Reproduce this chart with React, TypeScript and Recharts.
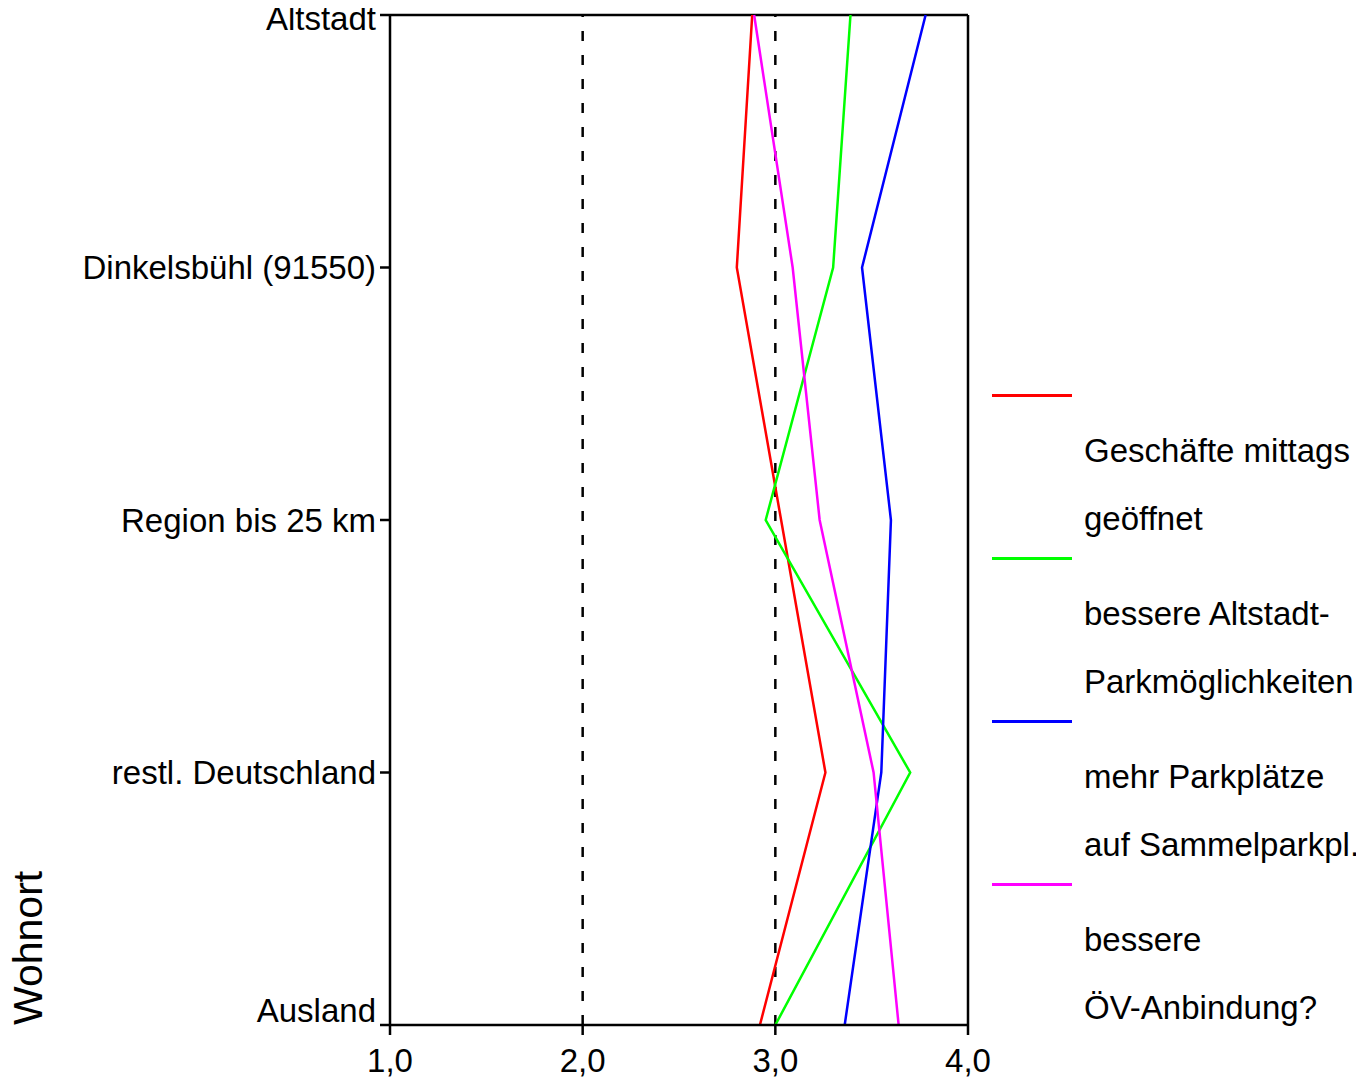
import React from 'react';
import { LineChart, Line, XAxis, YAxis, ReferenceLine, Legend, Label } from 'recharts';

const categories = ['Altstadt', 'Dinkelsbühl (91550)', 'Region bis 25 km', 'restl. Deutschland', 'Ausland'];

const geschaefte = [2.88, 2.8, 3.03, 3.26, 2.92];
const altstadtParken = [3.39, 3.3, 2.95, 3.7, 3.0];
const sammelParken = [3.78, 3.45, 3.6, 3.55, 3.36];
const oevAnbindung = [2.89, 3.09, 3.23, 3.51, 3.64];

const xTicks = [1, 2, 3, 4];

const series = [
    { key: 'geschaefte', name: 'Geschäfte mittags\ngeöffnet', color: '#ff0000', values: geschaefte },
    { key: 'altstadtParken', name: 'bessere Altstadt-\nParkmöglichkeiten', color: '#00ff00', values: altstadtParken },
    { key: 'sammelParken', name: 'mehr Parkplätze\nauf Sammelparkpl.', color: '#0000ff', values: sammelParken },
    { key: 'oevAnbindung', name: 'bessere\nÖV-Anbindung?', color: '#ff00ff', values: oevAnbindung },
];

const data = categories.map((cat, i) => {
    const row: Record<string, any> = { cat };
    series.forEach((s) => { row[s.key] = s.values[i]; });
    return row;
});

const FONT = '"Liberation Sans", Arial, sans-serif';

const YTick = (props: any) => {
    const { x, y, payload, index } = props;
    let shift = 0;
    if (index === 0) shift = 3;
    if (index === categories.length - 1) shift = -15;
    return (
        <text x={x} y={y + shift} dy="0.355em" textAnchor="end" fontSize={33} fontFamily={FONT} fill="#000">
            {payload.value}
        </text>
    );
};

// legend drawn in series order (recharts sorts its payload otherwise)
const LegendContent = () => (
    <div style={{ width: 372, fontFamily: FONT, fontSize: 33, color: '#000' }}>
        {series.map((s) => (
            <div key={`leg-${s.key}`} style={{ position: 'relative', height: 163 }}>
                <div style={{ position: 'absolute', left: 0, top: 0, width: 80, height: 2.5, background: s.color }} />
                <div style={{ position: 'absolute', left: 92, top: 23, lineHeight: '68px', whiteSpace: 'pre' }}>
                    {s.name}
                </div>
            </div>
        ))}
    </div>
);

const WohnortLabel = (props: any) => {
    const { viewBox } = props;
    const x = viewBox.x + 42;
    const y = viewBox.y + viewBox.height;
    return (
        <text x={x} y={y} transform={`rotate(-90, ${x}, ${y})`} textAnchor="start" fontSize={41} fontFamily={FONT} fill="#000">
            Wohnort
        </text>
    );
};

export default function App() {
    return (
        <div style={{ marginTop: -8, marginLeft: -8, width: 1364, height: 1080 }}>
            <LineChart
                width={1364}
                height={1080}
                data={data}
                layout="vertical"
                margin={{ top: 15, right: 24, left: 0, bottom: 0 }}
            >
                <XAxis
                    type="number"
                    domain={[1, 4]}
                    ticks={xTicks}
                    tickFormatter={(v: number) => v.toFixed(1).replace('.', ',')}
                    height={55}
                    axisLine={{ stroke: '#000', strokeWidth: 2.5 }}
                    tickLine={{ stroke: '#000', strokeWidth: 2.5 }}
                    tickSize={10}
                    tickMargin={14}
                    tick={{ fontSize: 33, fontFamily: FONT, fill: '#000' }}
                />
                <YAxis
                    type="category"
                    dataKey="cat"
                    scale="point"
                    padding={{ top: 0, bottom: 0 }}
                    width={390}
                    interval={0}
                    axisLine={{ stroke: '#000', strokeWidth: 2.5 }}
                    tickLine={{ stroke: '#000', strokeWidth: 2.5 }}
                    tickSize={10}
                    tickMargin={4}
                    tick={<YTick />}
                >
                    <Label content={<WohnortLabel />} />
                </YAxis>
                <ReferenceLine x={2} stroke="#000" strokeWidth={2.5} strokeDasharray="10 14" />
                <ReferenceLine x={3} stroke="#000" strokeWidth={2.5} strokeDasharray="10 14" />
                <ReferenceLine x={4} stroke="#000" strokeWidth={2.5} />
                <ReferenceLine y={categories[0]} stroke="#000" strokeWidth={2.5} />
                {series.map((s) => (
                    <Line
                        key={s.key}
                        dataKey={s.key}
                        name={s.name}
                        stroke={s.color}
                        strokeWidth={2.5}
                        dot={false}
                        activeDot={false}
                        type="linear"
                        isAnimationActive={false}
                    />
                ))}
                <Legend
                    layout="vertical"
                    align="right"
                    verticalAlign="middle"
                    content={<LegendContent />}
                    wrapperStyle={{ position: 'absolute', left: 992, top: 394, right: 'auto', bottom: 'auto', width: 372 }}
                />
            </LineChart>
        </div>
    );
}
